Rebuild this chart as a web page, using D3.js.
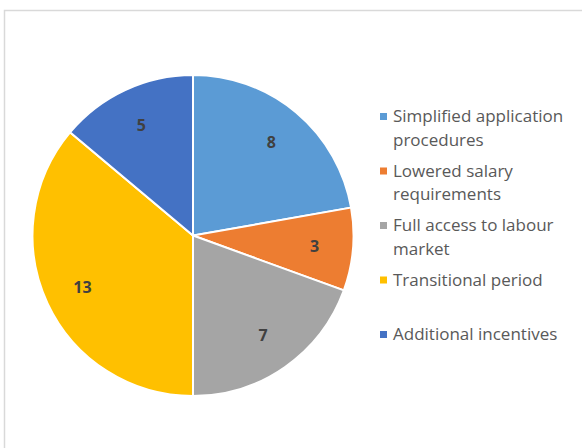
<!DOCTYPE html>
<html><head><meta charset="utf-8">
<script src="https://cdn.jsdelivr.net/npm/d3@7"></script>
<style>html,body{margin:0;padding:0;background:#fff;overflow:hidden}</style>
</head><body>
<script>
const categories = ["Simplified application procedures","Lowered salary requirements","Full access to labour market","Transitional period","Additional incentives"];
const values = [8,3,7,13,5];
const colors = ["#5B9BD5","#ED7D31","#A5A5A5","#FFC000","#4472C4"];

const W=582,H=448;
const svg=d3.select("body").append("svg").attr("width",W).attr("height",H);
svg.append("rect").attr("x",4.5).attr("y",10.5).attr("width",W).attr("height",H)
  .attr("fill","#fff").attr("stroke","#d9d9d9").attr("stroke-width",1.5);

const cx=193, cy=235.5, r=160.5;
const pie=d3.pie().sort(null).value(d=>d)(values);
const arc=d3.arc().innerRadius(0).outerRadius(r);
const labelArc=d3.arc().innerRadius(r*0.76).outerRadius(r*0.76);
const g=svg.append("g").attr("transform",`translate(${cx},${cy})`);
g.selectAll("path").data(pie).join("path").attr("d",arc)
  .attr("fill",(d,i)=>colors[i]).attr("stroke","#fff").attr("stroke-width",2);
g.selectAll("text").data(pie).join("text")
  .attr("transform",d=>`translate(${labelArc.centroid(d)})`)
  .attr("text-anchor","middle").attr("dy","0.35em")
  .attr("font-family","'Open Sans', sans-serif").attr("font-weight","bold")
  .attr("font-size",16).attr("fill","#404040").text(d=>d.data);

const lg=svg.append("g");
const lx=380, ly0=116.5, step=54.5, lineH=23.5, maxW=190;
categories.forEach((c,i)=>{
  const y=ly0+i*step;
  lg.append("rect").attr("x",lx).attr("y",y-3.5).attr("width",7).attr("height",7).attr("fill",colors[i]);
  const t=lg.append("text").attr("x",lx+13).attr("y",y).attr("dy","0.35em")
    .attr("font-family","'Open Sans', sans-serif").attr("font-size",17).attr("fill","#595959");
  const words=c.split(" ");
  let line=[], ln=0;
  let ts=t.append("tspan").attr("x",lx+13).attr("y",y).attr("dy","0.35em");
  words.forEach(w=>{
    line.push(w); ts.text(line.join(" "));
    if(ts.node().getComputedTextLength()>maxW && line.length>1){
      line.pop(); ts.text(line.join(" "));
      line=[w]; ln++;
      ts=t.append("tspan").attr("x",lx+13).attr("y",y+ln*lineH).attr("dy","0.35em").text(w);
    }
  });
});
</script>
</body></html>
